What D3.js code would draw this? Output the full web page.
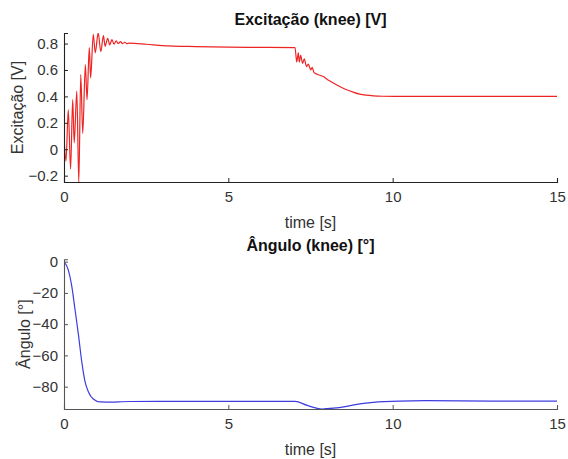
<!DOCTYPE html>
<html><head><meta charset="utf-8">
<script src="https://cdn.jsdelivr.net/npm/d3@7"></script>
<style>body{margin:0;background:#fff}svg{display:block}text{font-family:"Liberation Sans",Arial,sans-serif}</style>
</head><body>
<svg id="c" width="568" height="459"></svg>
<script>
// Excitação (knee) [V]
const tExc = [0,0.06,0.13,0.20,0.265,0.31,0.39,0.45,0.51,0.57,0.65,0.70,0.77,0.81,0.89,0.95,1.04,1.12,1.20,1.25,1.33,1.39,1.46,1.52,1.59,1.65,1.72,1.78,1.85,1.91,2.0,2.5,3.0,4.0,5.0,6.0,7.03,7.08,7.13,7.16,7.20,7.26,7.31,7.38,7.43,7.51,7.55,7.61,7.7,7.89,8.05,8.30,8.45,8.60,8.8,9.0,9.2,9.41,9.7,10.22,12,15];
const vExc = [0.10,-0.09,0.30,-0.15,0.375,0.05,0.44,-0.25,0.565,0.12,0.64,0.375,0.77,0.54,0.87,0.73,0.88,0.74,0.86,0.78,0.84,0.79,0.83,0.795,0.82,0.80,0.815,0.80,0.81,0.80,0.803,0.795,0.785,0.777,0.773,0.771,0.77,0.66,0.73,0.66,0.71,0.65,0.685,0.625,0.645,0.60,0.62,0.58,0.568,0.55,0.522,0.487,0.467,0.45,0.432,0.417,0.409,0.404,0.401,0.40,0.40,0.40];
// Ângulo (knee) [°]
const tAng = [0,0.13,0.23,0.33,0.44,0.54,0.64,0.74,0.89,1.1,1.3,2.0,4.0,7.03,7.4,7.85,8.2,8.6,9.0,9.41,10.2,11,13,15];
const vAng = [0,-5.3,-14.9,-29.8,-46.9,-64,-76.8,-83.2,-87.9,-89.8,-89.9,-89.5,-89.4,-89.4,-92.0,-94.3,-93.8,-92.6,-91.0,-90.0,-89.2,-89.0,-89.2,-89.2];

const xTicks = [0,5,10,15];
const yTicksExc = [-0.2,0,0.2,0.4,0.6,0.8];
const yTicksAng = [-80,-60,-40,-20,0];

const svg = d3.select("#c");
const L = 64, R = 557;

function panel(cfg){
  const x = d3.scaleLinear().domain([0,15]).range([L,R]);
  const y = d3.scaleLinear().domain(cfg.ydom).range([cfg.bottom,cfg.top]);
  const g = svg.append("g");
  const cid = "clip"+cfg.id;
  svg.append("clipPath").attr("id",cid).append("rect")
    .attr("x",L).attr("y",cfg.top).attr("width",R-L).attr("height",cfg.bottom-cfg.top);
  const line = d3.line().curve(d3.curveMonotoneX).x((d,i)=>x(cfg.t[i])).y(d=>y(d));
  g.append("path").datum(cfg.v).attr("d",line).attr("fill","none")
    .attr("stroke",cfg.color).attr("stroke-width",1.2).attr("clip-path",`url(#${cid})`);
  const xa = g.append("g").attr("transform",`translate(0,${cfg.bottom})`)
    .call(d3.axisBottom(x).tickValues(xTicks).tickSize(-4).tickPadding(9).tickFormat(d3.format("d")));
  const ya = g.append("g").attr("transform",`translate(${L},0)`)
    .call(d3.axisLeft(y).tickValues(cfg.yticks).tickSize(-4).tickPadding(6).tickFormat(cfg.fmt));
  [xa,ya].forEach(a=>{
    a.select(".domain").attr("stroke",cfg.axisColor).attr("stroke-width",1.1);
    a.selectAll(".tick line").attr("stroke",cfg.axisColor);
    a.selectAll(".tick text").attr("fill","#333").style("font-size","15px").style("font-family",'"Liberation Sans",Arial,sans-serif');
  });
  xa.selectAll(".tick text").attr("dy","0.71em");
  g.append("text").attr("x",(L+R)/2).attr("y",cfg.titleY).attr("text-anchor","middle")
    .style("font-size","16px").style("font-weight","bold").attr("fill","#111").text(cfg.title);
  g.append("text").attr("x",(L+R)/2).attr("y",cfg.xlabY).attr("text-anchor","middle")
    .style("font-size","16px").attr("fill","#333").text("time [s]");
  g.append("text").attr("transform",`translate(${cfg.ylabX},${(cfg.top+cfg.bottom)/2}) rotate(-90)`)
    .attr("text-anchor","middle").style("font-size","16px").attr("fill","#333").text(cfg.ylabel);
}

panel({id:1,t:tExc,v:vExc,ydom:[-0.248,0.88],top:33,bottom:182,color:"#ee2424",
  yticks:yTicksExc,fmt:d=>d===0?"0":d3.format(".1f")(d),axisColor:"#222",
  title:"Excitação (knee) [V]",titleY:25,xlabY:228,ylabel:"Excitação [V]",ylabX:23});
panel({id:2,t:tAng,v:vAng,ydom:[-94.3,1.5],top:259.3,bottom:409,color:"#3c3ce0",
  yticks:yTicksAng,fmt:d3.format("d"),axisColor:"#555",
  title:"Ângulo (knee) [°]",titleY:251,xlabY:455,ylabel:"Ângulo [°]",ylabX:30});
</script>
</body></html>
